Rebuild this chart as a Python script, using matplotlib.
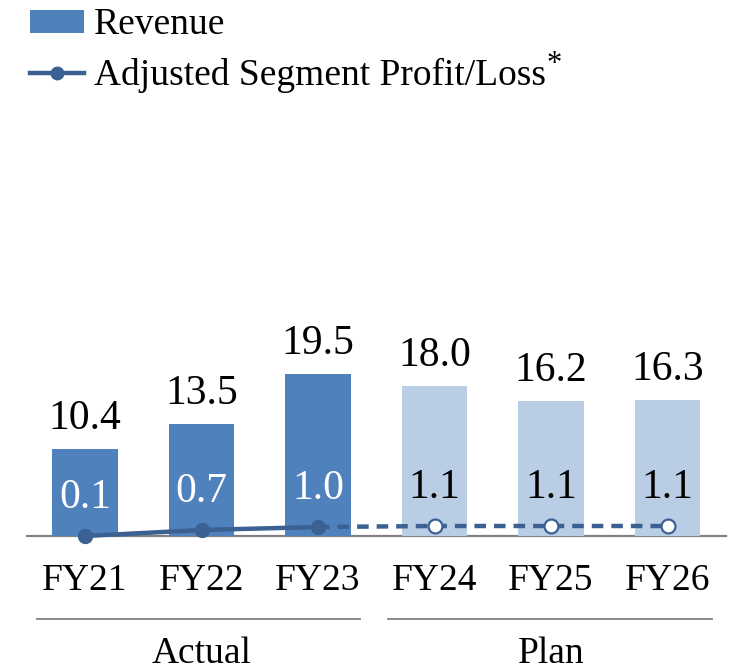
import matplotlib
matplotlib.use("Agg")
import matplotlib.pyplot as plt
from matplotlib.patches import Patch
from matplotlib.lines import Line2D
import matplotlib.transforms as mtransforms

plt.rcParams['font.family'] = ['Liberation Serif', 'DejaVu Serif']

# data
years = ['FY21', 'FY22', 'FY23', 'FY24', 'FY25', 'FY26']
revenue = [10.4, 13.5, 19.5, 18.0, 16.2, 16.3]
profit = [0.1, 0.7, 1.0, 1.1, 1.1, 1.1]
is_plan = [False, False, False, True, True, True]
groups = ['Actual', 'Plan']

dark = '#4F81BD'
light = '#B9CDE5'
line_col = '#3A6192'

fig = plt.figure(figsize=(7.34, 6.66), dpi=100)
ax = fig.add_axes([26.75 / 734, 130 / 666, 699 / 734, 236 / 666])
x = list(range(len(years)))

bar_colors = [light if p else dark for p in is_plan]
ax.bar(x, revenue, width=0.56, color=bar_colors, zorder=2)
ax.set_xlim(-0.5, 5.5)
ax.set_ylim(0, 236 / 8.33)

for xi, v in zip(x, revenue):
    ax.annotate(f'{v:.1f}', (xi, v), xytext=(0, 14.4), textcoords='offset points',
                ha='center', va='baseline', fontsize=30)

# profit line on second scale
ax2 = ax.twinx()
ax2.set_ylim(0.1, 23.7)
actual_idx = [i for i in x if not is_plan[i]]
plan_idx = [actual_idx[-1]] + [i for i in x if is_plan[i]]
ax2.plot(actual_idx, [profit[i] for i in actual_idx], color=line_col, lw=3.2,
         marker='o', ms=10, mfc=line_col, mec=line_col, clip_on=False, zorder=3)
ax2.plot(plan_idx, [profit[i] for i in plan_idx], color=line_col, lw=3.2,
         ls=(0, (2.6, 1.8)), clip_on=False, zorder=3)
ax2.plot(plan_idx[1:], [profit[i] for i in plan_idx[1:]], ls='none', marker='o',
         ms=10, mfc='white', mec=line_col, mew=1.6, clip_on=False, zorder=4)
for i in x:
    ax2.annotate(f'{profit[i]:.1f}', (i, profit[i]), xytext=(0, 20), textcoords='offset points',
                 ha='center', va='baseline', fontsize=30,
                 color='black' if is_plan[i] else 'white', zorder=5)

for a in (ax, ax2):
    for s in ['top', 'right', 'left']:
        a.spines[s].set_visible(False)
    a.set_yticks([])
ax2.spines['bottom'].set_visible(False)
ax.spines['bottom'].set_color('#808080')
ax.spines['bottom'].set_linewidth(1.6)
ax.spines['bottom'].set_zorder(1)

ax.set_xticks(x)
ax.set_xticklabels(years, fontsize=27)
ax.tick_params(axis='x', length=0, pad=20)

# group brackets under tick labels
trans = mtransforms.blended_transform_factory(ax.transData, ax.transAxes)
for (x0, x1, xc), name in zip([(-0.41, 2.36, 1.0), (2.60, 5.38, 4.0)], groups):
    ax.plot([x0, x1], [-0.352, -0.352], transform=trans, color='#808080', lw=1.3, clip_on=False)
    ax.text(xc, -0.5, name, transform=trans, ha='center', va='center', fontsize=27)

# legend
handles = [Patch(facecolor=dark, edgecolor='none'),
           Line2D([], [], color=line_col, lw=3.2, marker='o', ms=9)]
leg = fig.legend(handles, ['Revenue', 'Adjusted Segment Profit/Loss'],
                 loc='upper left', bbox_to_anchor=(30 / 734, 1 - 8 / 666),
                 frameon=False, fontsize=27, handlelength=1.45, handleheight=0.55,
                 handletextpad=0.25, labelspacing=0.42, borderpad=0, borderaxespad=0)

fig.canvas.draw()
bb = leg.get_texts()[1].get_window_extent()
fig.text(bb.x1 + 1, bb.y0 + 0.22 * 37.5 + 13, '*', fontsize=22, ha='left', va='baseline',
         transform=None)

fig.savefig('out.png', dpi=100)
